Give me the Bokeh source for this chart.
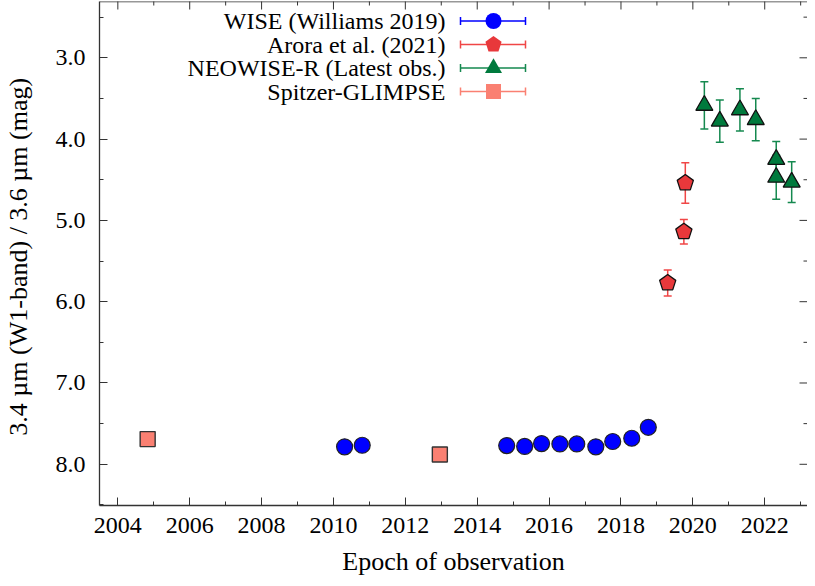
import math
from bokeh.plotting import figure
from bokeh.models import (ColumnDataSource, Whisker, TeeHead, LinearAxis, Range1d, Span,
                          SingleIntervalTicker, NumeralTickFormatter)
from bokeh.core.properties import value
from bokeh.embed import file_html
from bokeh.resources import INLINE

# ---------------- data ----------------
wise_epoch = [2010.31, 2010.80, 2014.82, 2015.32, 2015.79, 2016.30, 2016.77, 2017.30, 2017.77, 2018.30, 2018.76]
wise_mag = [7.785, 7.766, 7.77, 7.78, 7.745, 7.75, 7.75, 7.785, 7.72, 7.68, 7.545]

arora_epoch = [2019.30, 2019.75, 2019.79]
arora_mag = [5.77, 5.14, 4.54]
arora_err = [0.16, 0.15, 0.25]

neowise_epoch = [2020.32, 2020.75, 2021.31, 2021.75, 2022.32, 2022.32, 2022.75]
neowise_mag = [3.585, 3.78, 3.64, 3.76, 4.25, 4.47, 4.53]
neowise_err = [0.29, 0.26, 0.26, 0.26, 0.22, 0.27, 0.25]

spitzer_epoch = [2004.83, 2012.96]
spitzer_mag = [7.69, 7.88]

legend_labels = ["WISE (Williams 2019)", "Arora et al. (2021)",
                 "NEOWISE-R (Latest obs.)", "Spitzer-GLIMPSE"]

x_major_ticks = [2004, 2006, 2008, 2010, 2012, 2014, 2016, 2018, 2020, 2022]
x_minor_ticks = [2005, 2007, 2009, 2011, 2013, 2015, 2017, 2019, 2021, 2023]
y_major_ticks = [3.0, 4.0, 5.0, 6.0, 7.0, 8.0]
y_minor_ticks = [2.5, 3.5, 4.5, 5.5, 6.5, 7.5]

FONT = "Liberation Serif"
AX = "#333333"
BLUE = "#0000ff"
RED_F = "#e8383b"
RED_L = "#f04646"
GREEN_F = "#007a3d"
GREEN_L = "#15894f"
SALMON = "#fa8072"

W, H = 807, 578
FL, FB, FT = 99, 73, 1
FW, FH = W - FL, H - FB - FT

X0, X1 = 2003.49, 2023.19
Y_BOTTOM, Y_TOP = 8.507, 2.3075

p = figure(width=W, height=H, output_backend="svg", toolbar_location=None,
           x_range=Range1d(X0, X1), y_range=Range1d(Y_BOTTOM, Y_TOP),
           min_border_left=FL, min_border_bottom=FB, min_border_top=FT, min_border_right=0,
           x_axis_location=None, y_axis_location=None)
p.outline_line_color = None
p.xgrid.visible = False
p.ygrid.visible = False
p.background_fill_color = "white"
p.border_fill_color = "white"

# pixel helper ranges for the legend
p.extra_x_ranges = {"px": Range1d(0, FW)}
p.extra_y_ranges = {"px": Range1d(FH, 0)}


def style_axis(ax, fmt=None):
    ax.major_tick_in = 8
    ax.major_tick_out = 0
    ax.minor_tick_in = 4
    ax.minor_tick_out = 0
    ax.major_tick_line_color = AX
    ax.minor_tick_line_color = AX
    ax.axis_line_color = AX
    ax.axis_line_width = 1.3
    ax.major_label_text_font = FONT
    ax.major_label_text_color = "black"
    ax.major_label_text_font_size = "24px"
    ax.axis_label_text_font = FONT
    ax.axis_label_text_font_size = "26px"
    ax.axis_label_text_font_style = "normal"
    ax.axis_label_text_color = "black"
    if fmt:
        ax.formatter = fmt


bx = LinearAxis(ticker=SingleIntervalTicker(interval=2, num_minor_ticks=2))
style_axis(bx)
bx.major_label_standoff = 12
bx.axis_label = "Epoch of observation"
bx.axis_label_standoff = 11
p.add_layout(bx, "below")

ly = LinearAxis(ticker=SingleIntervalTicker(interval=1, num_minor_ticks=2))
style_axis(ly, NumeralTickFormatter(format="0.0"))
ly.major_label_standoff = 14
ly.axis_label = "3.4 \u00b5m (W1-band) / 3.6  \u00b5m (mag)"
ly.axis_label_standoff = 20
p.add_layout(ly, "left")

# mirrored frame: top border line + inward ticks on top and right edges
p.add_layout(Span(location=Y_TOP, dimension="width", line_color=AX, line_width=1.3))
p.scatter(x_major_ticks, [Y_TOP] * len(x_major_ticks), marker="dash", angle=math.pi / 2,
          size=16, line_color=AX, line_width=1)
p.scatter(x_minor_ticks, [Y_TOP] * len(x_minor_ticks), marker="dash", angle=math.pi / 2,
          size=8, line_color=AX, line_width=1)
p.scatter([X1] * len(y_major_ticks), y_major_ticks, marker="dash",
          size=16, line_color=AX, line_width=1)
p.scatter([X1] * len(y_minor_ticks), y_minor_ticks, marker="dash",
          size=8, line_color=AX, line_width=1)

# ---------------- error bars ----------------
def whisk(xs, ys, es, color):
    src = ColumnDataSource(dict(x=xs, lo=[y - e for y, e in zip(ys, es)],
                                hi=[y + e for y, e in zip(ys, es)]))
    w = Whisker(source=src, base="x", lower="lo", upper="hi", dimension="height",
                line_color=color, line_width=1.5, level="underlay",
                lower_head=TeeHead(size=8, line_color=color, line_width=1.5),
                upper_head=TeeHead(size=8, line_color=color, line_width=1.5))
    p.add_layout(w)


whisk(arora_epoch, arora_mag, arora_err, RED_L)
whisk(neowise_epoch, neowise_mag, neowise_err, GREEN_L)

# ---------------- markers ----------------
p.scatter(spitzer_epoch, spitzer_mag, marker="square", size=15,
          fill_color=SALMON, line_color="#333333", line_width=1.4)
p.scatter(wise_epoch, wise_mag, marker="circle", size=16,
          fill_color=BLUE, line_color="#222222", line_width=1.2)

PENT_ANGLE = 0.0
pent_ok = False
try:
    from bokeh.models import Ngon
    src = ColumnDataSource(dict(x=arora_epoch, y=arora_mag))
    g = Ngon(x="x", y="y", n=5, radius=8.5, radius_units="screen",
             angle=PENT_ANGLE, fill_color=RED_F, line_color="#111111", line_width=1.3)
    p.add_glyph(src, g)
    pent_ok = True
except Exception:
    pent_ok = False
if not pent_ok:
    p.scatter(arora_epoch, arora_mag, marker="hex", size=16,
              fill_color=RED_F, line_color="#111111", line_width=1.3)

p.scatter(neowise_epoch, neowise_mag, marker="triangle", size=17,
          fill_color=GREEN_F, line_color="#111111", line_width=1.3)

# ---------------- legend (pixel coordinates within the frame) ----------------
leg_y = [19.5, 43, 66.5, 90]
text_x = 346
seg_x0, seg_x1, mark_x = 361, 426, 394
leg_line = [BLUE, RED_L, GREEN_L, SALMON]

p.text(x=[text_x] * 4, y=leg_y, text=legend_labels, x_range_name="px", y_range_name="px",
       text_font=value(FONT), text_font_size="24px", text_align="right",
       text_baseline="middle", text_color="black")
p.segment(x0=[seg_x0] * 4, x1=[seg_x1] * 4, y0=leg_y, y1=leg_y, line_color=leg_line,
          line_width=1.5, x_range_name="px", y_range_name="px")
for xx in (seg_x0, seg_x1):
    p.segment(x0=[xx] * 4, x1=[xx] * 4, y0=[v - 4 for v in leg_y], y1=[v + 4 for v in leg_y],
              line_color=leg_line, line_width=1.5, x_range_name="px", y_range_name="px")
p.scatter([mark_x], [leg_y[0]], marker="circle", size=16, fill_color=BLUE, line_color=None,
          x_range_name="px", y_range_name="px")
if pent_ok:
    p.add_glyph(ColumnDataSource(dict(x=[mark_x], y=[leg_y[1]])),
                Ngon(x="x", y="y", n=5, radius=8.5, radius_units="screen", angle=PENT_ANGLE,
                     fill_color=RED_F, line_color=None),
                x_range_name="px", y_range_name="px")
else:
    p.scatter([mark_x], [leg_y[1]], marker="hex", size=16, fill_color=RED_F, line_color=None,
              x_range_name="px", y_range_name="px")
p.scatter([mark_x], [leg_y[2]], marker="triangle", size=17, fill_color=GREEN_F, line_color=None,
          x_range_name="px", y_range_name="px")
p.scatter([mark_x], [leg_y[3]], marker="square", size=15, fill_color=SALMON, line_color=None,
          x_range_name="px", y_range_name="px")

open("out.html", "w").write(file_html(p, INLINE))
